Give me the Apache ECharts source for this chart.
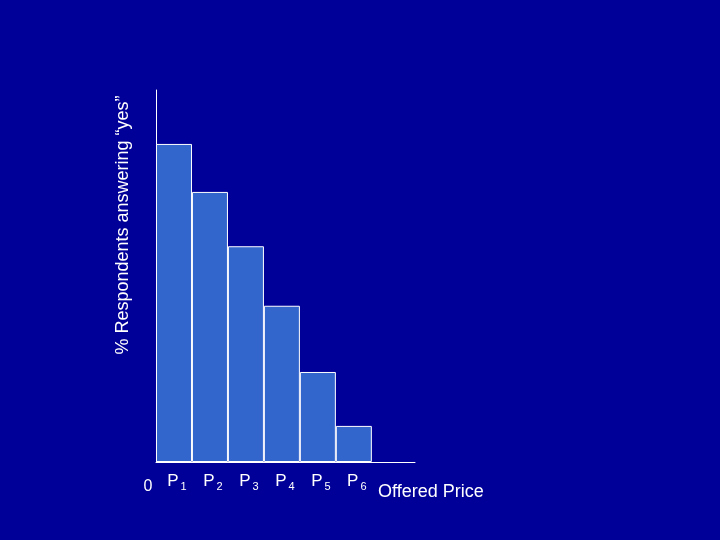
<!DOCTYPE html>
<html>
<head>
<meta charset="utf-8">
<script src="https://cdn.jsdelivr.net/npm/echarts@6/dist/echarts.min.js"></script>
<style>
  html, body { margin: 0; padding: 0; background: #000099; }
  #chart { width: 720px; height: 540px; }
</style>
</head>
<body>
<div id="chart"></div>
<script>
// 價格類別與回答「是」的比例
var categories = ['1', '2', '3', '4', '5', '6'];
var positions = [0.5, 1.5, 2.5, 3.5, 4.5, 5.5];
var yesShare = [85.5, 72.6, 58, 42, 24.2, 9.7];

var chart = echarts.init(document.getElementById('chart'));
var font = '"Liberation Sans", Arial, sans-serif';

var option = {
    backgroundColor: '#000099',
    animation: false,
    grid: { left: 156, right: 305, top: 90, bottom: 78 },
    xAxis: {
        type: 'value',
        min: 0,
        max: 7.2,
        interval: 0.5,
        name: 'Offered Price',
        nameLocation: 'end',
        nameGap: 0,
        nameTextStyle: {
            color: '#ffffff', fontSize: 18, fontFamily: font,
            align: 'left', verticalAlign: 'top', padding: [21, 0, 0, -37]
        },
        axisLine: { lineStyle: { color: '#ffffff', width: 1 } },
        axisTick: { show: false },
        splitLine: { show: false },
        axisLabel: {
            margin: 9,
            showMaxLabel: false,
            formatter: function (v) {
                if (v === 0) return '{z|0}';
                var i = positions.indexOf(v);
                return i >= 0 ? '{p|P}{s|' + categories[i] + '}' : '';
            },
            rich: {
                z: { color: '#ffffff', fontSize: 16, fontFamily: font, padding: [8, 16, 0, 0] },
                p: { color: '#ffffff', fontSize: 17, fontFamily: font, padding: [0, 0, 0, 6] },
                s: { color: '#ffffff', fontSize: 11, fontFamily: font, padding: [10, 0, 0, 2] }
            }
        }
    },
    yAxis: {
        type: 'value',
        min: 0,
        max: 100,
        axisLine: { show: true, lineStyle: { color: '#ffffff', width: 1 } },
        axisTick: { show: false },
        axisLabel: { show: false },
        splitLine: { show: false }
    },
    series: [
        {
            type: 'bar',
            barWidth: 36,
            itemStyle: { color: '#3366cc', borderColor: '#ffffff', borderWidth: 1 },
            data: positions.map(function (x, i) { return [x, yesShare[i]]; })
        }
    ],
    graphic: [
        {
            type: 'text',
            x: 123,
            y: 225,
            rotation: Math.PI / 2,
            style: {
                text: '% Respondents answering \u201cyes\u201d',
                fill: '#ffffff',
                fontSize: 18,
                fontFamily: font,
                align: 'center',
                verticalAlign: 'middle'
            }
        }
    ]
};
chart.setOption(option);

window.addEventListener('resize', function () {
    chart.resize();
});
</script>
</body>
</html>
